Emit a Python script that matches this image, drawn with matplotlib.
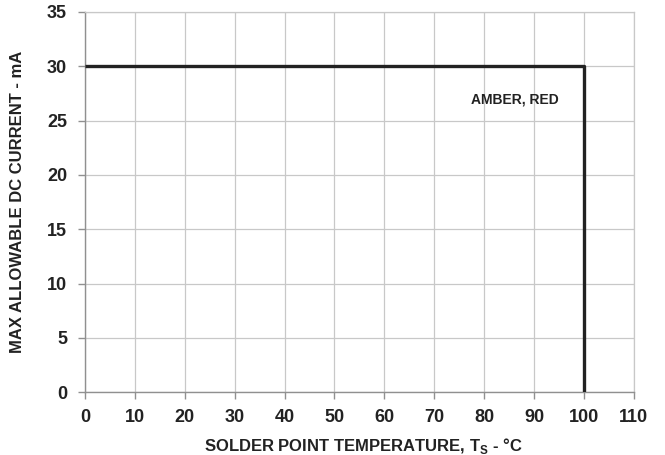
import matplotlib
matplotlib.use("Agg")
import matplotlib.pyplot as plt

# Derating curve: max allowable DC current vs solder point temperature
temp_c = [0, 100, 100]
current_ma = [30, 30, 0]
x_ticks = list(range(0, 111, 10))
y_ticks = list(range(0, 36, 5))

plt.rcParams["font.family"] = ["Liberation Sans", "DejaVu Sans"]
plt.rcParams["font.weight"] = "bold"
plt.rcParams["mathtext.fontset"] = "custom"
plt.rcParams["mathtext.rm"] = "Liberation Sans:bold"
plt.rcParams["mathtext.bf"] = "Liberation Sans:bold"

fig = plt.figure(figsize=(6.65, 4.55), dpi=100)
ax = fig.add_axes([0.128, 0.138, 0.825, 0.836])

ax.plot(temp_c, current_ma, color="#222222", linewidth=2.4, solid_capstyle="butt", zorder=3)

ax.set_xlim(0, 110)
ax.set_ylim(0, 35)
ax.set_xticks(x_ticks)
ax.set_yticks(y_ticks)
ax.grid(True, color="#c8c8c8", linewidth=0.9)
ax.set_axisbelow(True)

for side in ["top", "right"]:
    ax.spines[side].set_color("#c8c8c8")
    ax.spines[side].set_linewidth(0.9)
for side in ["left", "bottom"]:
    ax.spines[side].set_color("#909090")
    ax.spines[side].set_linewidth(1.0)

ax.tick_params(axis="both", length=5, width=1.0, color="#909090",
               labelsize=13, labelcolor="#222222")
ax.tick_params(axis="x", pad=7)
ax.tick_params(axis="y", pad=8)
for lbl in ax.get_xticklabels() + ax.get_yticklabels():
    lbl.set_fontweight("bold")

ax.set_xlabel("SOLDER POINT TEMPERATURE, T$_\\mathrm{S}$ - °C", fontsize=12,
              fontweight="bold", color="#222222")
ax.xaxis.set_label_coords(0.507, -0.115)
ax.set_ylabel("MAX ALLOWABLE DC CURRENT - mA", fontsize=12,
              fontweight="bold", color="#222222", labelpad=16)

ax.text(77.3, 26.9, "AMBER, RED", fontsize=10, fontweight="bold",
        color="#222222", va="center", ha="left")

fig.savefig("out.png", dpi=100)
plt.close(fig)
